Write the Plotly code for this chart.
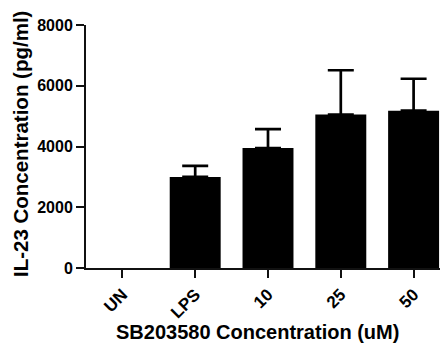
import plotly.graph_objects as go

categories = ["UN", "LPS", "10", "25", "50"]
values = [0, 3000, 3950, 5050, 5180]
errors = [None, 360, 620, 1460, 1050]
y_ticks = [0, 2000, 4000, 6000, 8000]

font_family = "Liberation Sans, Arial, sans-serif"

# the page is shown with an 8px body margin, so plot geometry is offset here
fig = go.Figure()
fig.add_trace(go.Bar(
    x=categories,
    y=values,
    width=0.7,
    marker=dict(color="black", line=dict(width=0)),
    hoverinfo="x+y",
))

err_idx = [i for i, e in enumerate(errors) if e is not None]
fig.add_trace(go.Scatter(
    x=[categories[i] for i in err_idx],
    y=[values[i] for i in err_idx],
    mode="markers",
    marker=dict(size=1, opacity=0),
    error_y=dict(type="data", symmetric=False,
                 array=[errors[i] for i in err_idx],
                 arrayminus=[0] * len(err_idx),
                 color="black", thickness=2.7, width=13),
    hoverinfo="skip",
))

fig.update_layout(
    width=448, height=348,
    margin=dict(l=78, r=6, t=17, b=88),
    paper_bgcolor="white", plot_bgcolor="white",
    showlegend=False,
    font=dict(family=font_family, color="black"),
    xaxis=dict(
        type="category",
        range=[-0.5, 4.5],
        automargin=False,
        showline=True, linecolor="#111", linewidth=2,
        ticks="outside", ticklen=8, tickwidth=2, tickcolor="#111",
        tickangle=-45,
        tickfont=dict(size=17, family=font_family, weight="bold"),
        showgrid=False, zeroline=False,
    ),
    yaxis=dict(
        range=[0, 8000],
        automargin=False,
        tickvals=y_ticks,
        ticktext=[str(v) for v in y_ticks],
        showline=True, linecolor="#111", linewidth=2,
        ticks="outside", ticklen=8, tickwidth=2, tickcolor="#111",
        tickfont=dict(size=16, family=font_family, weight="bold"),
        showgrid=False, zeroline=False,
    ),
    annotations=[
        dict(text="<b>SB203580 Concentration (uM)</b>",
             xref="paper", yref="paper", x=0.47, y=-0.263,
             xanchor="center", yanchor="middle", showarrow=False,
             font=dict(size=20, family=font_family, color="black")),
        dict(text="<b>IL-23 Concentration (pg/ml)</b>",
             xref="paper", yref="paper", x=0, y=0.51, xshift=-66,
             xanchor="center", yanchor="middle", showarrow=False,
             textangle=-90,
             font=dict(size=20.5, family=font_family, color="black")),
    ],
)

fig.write_html("out.html")
